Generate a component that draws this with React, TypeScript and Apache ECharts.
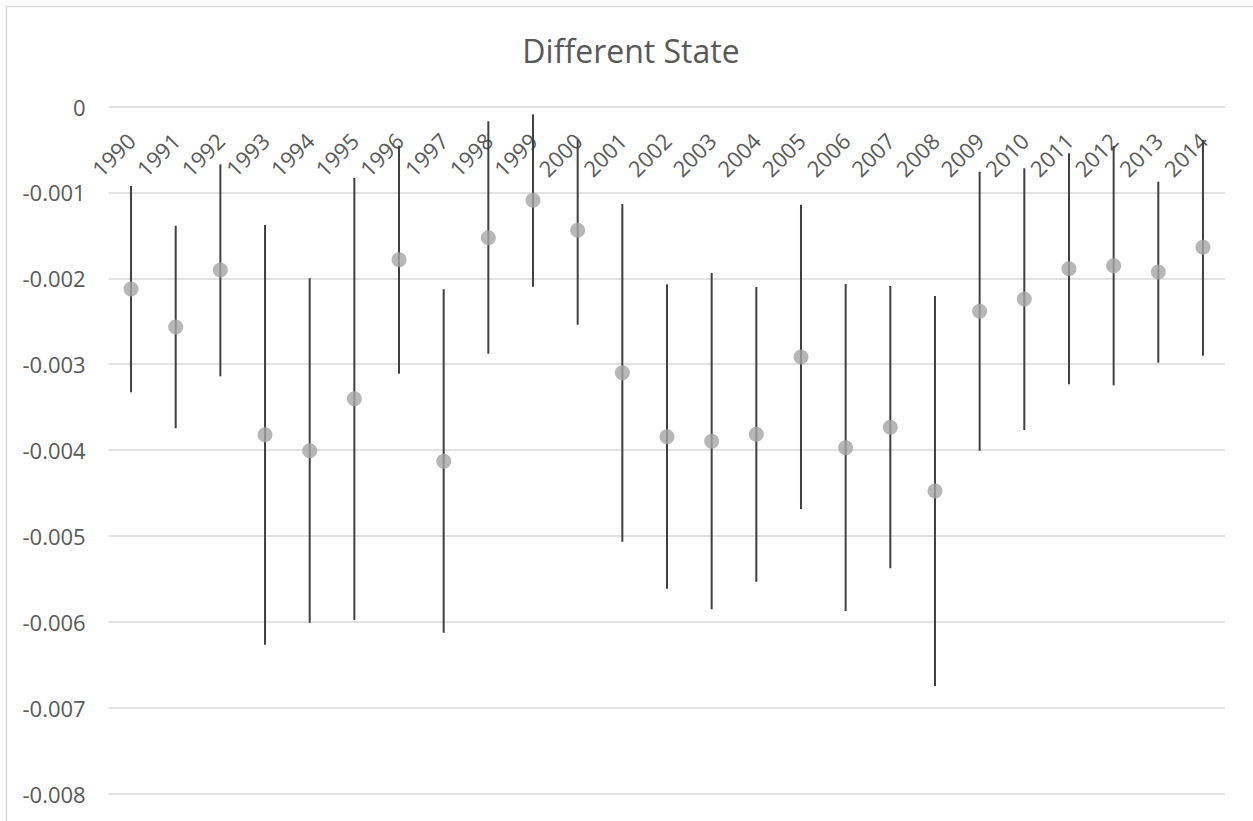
import React, { useEffect, useRef } from "react";
import * as echarts from "echarts";

const years = [
  "1990", "1991", "1992", "1993", "1994", "1995", "1996", "1997", "1998", "1999",
  "2000", "2001", "2002", "2003", "2004", "2005", "2006", "2007", "2008", "2009",
  "2010", "2011", "2012", "2013", "2014",
];

const estimates = [
  -0.002125, -0.002567, -0.001903, -0.003821, -0.004007, -0.003401, -0.001783, -0.00413,
  -0.001527, -0.001092, -0.001441, -0.003099, -0.003844, -0.003898, -0.003816, -0.002916,
  -0.003972, -0.003735, -0.004476, -0.002384, -0.002241, -0.001888, -0.001853, -0.001927,
  -0.001639,
];

const upper = [
  -0.000925, -0.001388, -0.000673, -0.00138, -0.002, -0.000832, -0.000456, -0.002128,
  -0.000172, -0.000091, -0.00039, -0.001135, -0.00207, -0.001938, -0.002101, -0.001143,
  -0.002066, -0.00209, -0.002206, -0.000759, -0.00072, -0.000545, -0.00046, -0.000875,
  -0.00039,
];

const lower = [
  -0.003327, -0.003746, -0.003141, -0.006266, -0.006009, -0.005978, -0.00311, -0.006126,
  -0.002878, -0.002098, -0.00254, -0.005066, -0.005613, -0.005853, -0.005532, -0.004686,
  -0.005873, -0.005376, -0.006746, -0.004007, -0.003766, -0.003234, -0.003246, -0.002982,
  -0.002901,
];

const yMin = -0.008;
const yMax = 0;
const yStep = 0.001;

export default function App() {
  const ref = useRef<HTMLDivElement>(null);

  useEffect(() => {
    if (!ref.current) return;
    const chart = echarts.init(ref.current, null, { renderer: "svg" });
    const font = "'Open Sans', sans-serif";
    const errData = years.map((_, i) => [i, lower[i], upper[i]]);
    chart.setOption({
      animation: false,
      backgroundColor: "#ffffff",
      title: {
        text: "Different State",
        left: 626,
        top: 29,
        textAlign: "center",
        textStyle: { color: "#595959", fontSize: 32, fontWeight: "normal", fontFamily: font },
      },
      graphic: [
        {
          type: "rect",
          shape: { x: 6.5, y: 6.5, width: 1270, height: 840 },
          style: { fill: "none", stroke: "#d9d9d9", lineWidth: 1.5 },
          silent: true,
        },
      ],
      grid: { left: 108.7, right: 27.7, top: 106.5, bottom: 27.3, containLabel: false },
      xAxis: {
        type: "category",
        data: years,
        position: "top",
        boundaryGap: true,
        axisLine: { show: false },
        axisTick: { show: false },
        splitLine: { show: false },
        axisLabel: {
          inside: true,
          rotate: 45,
          interval: 0,
          margin: 30,
          color: "#595959",
          fontSize: 22,
          fontFamily: font,
        },
      },
      yAxis: {
        type: "value",
        min: yMin,
        max: yMax,
        interval: yStep,
        axisLine: { show: false },
        axisTick: { show: false },
        splitLine: { lineStyle: { color: "#d9d9d9", width: 1.5 } },
        axisLabel: {
          margin: 23,
          color: "#595959",
          fontSize: 22,
          fontFamily: font,
          formatter: (v: number) => (Math.abs(v) < 1e-12 ? "0" : v.toFixed(3)),
        },
      },
      series: [
        {
          type: "custom",
          z: 2,
          data: errData,
          encode: { x: 0, y: [1, 2] },
          renderItem: (params: any, api: any) => {
            const x = api.value(0);
            const p1 = api.coord([x, api.value(1)]);
            const p2 = api.coord([x, api.value(2)]);
            return {
              type: "line",
              shape: { x1: p1[0], y1: p1[1], x2: p2[0], y2: p2[1] },
              style: { stroke: "#404040", lineWidth: 2 },
            };
          },
        },
        {
          type: "scatter",
          z: 5,
          data: estimates,
          symbol: "circle",
          symbolSize: 15,
          itemStyle: { color: "#a5a5a5" },
        },
      ],
    });
    return () => chart.dispose();
  }, []);

  return (
    <div
      ref={ref}
      style={{ position: "fixed", left: 0, top: 0, width: 1253, height: 821 }}
    />
  );
}
